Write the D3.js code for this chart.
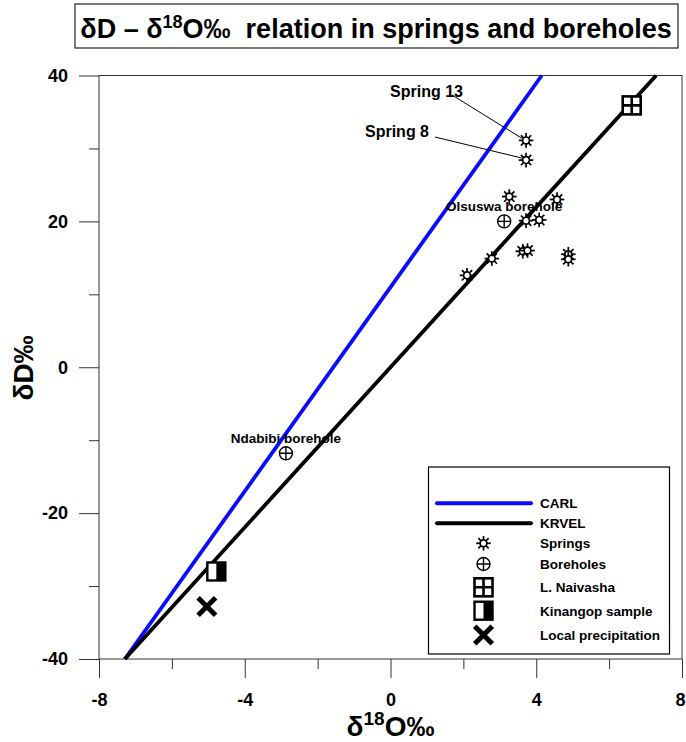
<!DOCTYPE html>
<html>
<head>
<meta charset="utf-8">
<script src="https://cdn.jsdelivr.net/npm/d3@7"></script>
<style>
  body { margin: 0; background: #fff; }
  svg { display: block; font-family: "Liberation Sans", Arial, sans-serif; font-weight: bold; }
  text { white-space: pre; }
</style>
</head>
<body>
<div id="chart"></div>
<script>
// springs (first two are labelled)
const springX = [3.72, 3.72, 3.26, 4.57, 3.72, 4.08, 3.63, 3.76, 4.88, 4.88, 2.78, 2.10];
const springY = [31.1, 28.4, 23.4, 23.0, 20.1, 20.2, 15.9, 16.0, 15.5, 14.8, 14.9, 12.6];
const springNames = ['Spring 13', 'Spring 8'];

const boreholeNames = ['Olsuswa borehole', 'Ndabibi borehole'];
const boreholeX = [3.12, -2.87];
const boreholeY = [20.0, -11.8];

const naivashaX = [6.62];
const naivashaY = [35.9];
const kinangopX = [-4.78];
const kinangopY = [-28.0];
const precipX = [-5.04];
const precipY = [-32.8];

// meteoric water lines, end points
const carlX = [-7.29, 4.15];
const carlY = [-40, 40];
const krvelX = [-7.29, 7.29];
const krvelY = [-40, 40];

const xMajor = [-8, -4, 0, 4, 8];
const xMinor = [-6, -2, 2, 6];
const yMajor = [-40, -20, 0, 20, 40];
const yMinor = [-30, -10, 10, 30];

const legendLabels = ['CARL', 'KRVEL', 'Springs', 'Boreholes', 'L. Naivasha', 'Kinangop sample', 'Local precipitation'];

const width = 686;
const height = 742;
const plotL = 99, plotR = 682, plotT = 75.5, plotB = 659;

const svg = d3.select('#chart').append('svg')
  .attr('width', width)
  .attr('height', height);

const x = d3.scaleLinear().domain([-8, 8]).range([plotL, plotR]);
const y = d3.scaleLinear().domain([-40, 40]).range([plotB, plotT]);

// title
svg.append('rect')
  .attr('x', 75).attr('y', 4).attr('width', 603).attr('height', 44)
  .attr('fill', 'none').attr('stroke', '#333').attr('stroke-width', 1.3);
const title = svg.append('text')
  .attr('x', 376).attr('y', 38)
  .attr('text-anchor', 'middle')
  .attr('font-size', 27);
title.append('tspan').text('δD – δ');
title.append('tspan').attr('font-size', 18).attr('dy', -10).text('18');
title.append('tspan').attr('dy', 10).text('O‰  relation in springs and boreholes');

// axes
const fmt = d => String(d);
function styleAxis(g) {
  g.select('.domain').remove();
  g.selectAll('.tick line').attr('stroke', '#333').attr('stroke-width', 1);
  g.selectAll('.tick text').attr('fill', '#000').attr('font-size', 18)
    .attr('font-family', '"Liberation Sans", Arial, sans-serif').attr('font-weight', 'bold');
}

const xAxisG = svg.append('g').attr('transform', `translate(0,${plotB})`)
  .call(d3.axisBottom(x).tickValues(xMajor).tickSize(19).tickPadding(15).tickFormat(fmt))
  .call(styleAxis);
// last label sits on the page edge
xAxisG.selectAll('.tick text').filter(d => d === 8)
  .attr('text-anchor', 'end').attr('x', 685 - plotR);
svg.append('g').attr('transform', `translate(0,${plotB})`)
  .call(d3.axisBottom(x).tickValues(xMinor).tickSize(10).tickFormat(''))
  .call(styleAxis);
svg.append('g').attr('transform', `translate(${plotL},0)`)
  .call(d3.axisLeft(y).tickValues(yMajor).tickSize(20).tickPadding(11).tickFormat(fmt))
  .call(styleAxis);
svg.append('g').attr('transform', `translate(${plotL},0)`)
  .call(d3.axisLeft(y).tickValues(yMinor).tickSize(10).tickFormat(''))
  .call(styleAxis);

svg.append('rect')
  .attr('x', plotL).attr('y', plotT).attr('width', plotR - plotL).attr('height', plotB - plotT)
  .attr('fill', 'none').attr('stroke', '#333').attr('stroke-width', 1);

// axis titles
const xt = svg.append('text')
  .attr('x', (plotL + plotR) / 2).attr('y', 736)
  .attr('text-anchor', 'middle').attr('font-size', 28);
xt.append('tspan').text('δ');
xt.append('tspan').attr('font-size', 19).attr('dy', -11).text('18');
xt.append('tspan').attr('dy', 11).text('O‰');

svg.append('text')
  .attr('transform', 'translate(33,368) rotate(-90)')
  .attr('text-anchor', 'middle').attr('font-size', 28)
  .text('δD‰');

// lines
const line = d3.line().x(d => x(d[0])).y(d => y(d[1]));
svg.append('path')
  .attr('d', line(d3.zip(carlX, carlY)))
  .attr('stroke', '#0a0aff').attr('stroke-width', 3.8).attr('fill', 'none');
svg.append('path')
  .attr('d', line(d3.zip(krvelX, krvelY)))
  .attr('stroke', '#000').attr('stroke-width', 3.8).attr('fill', 'none');

// symbols
function drawStar(g) {
  g.append('circle').attr('r', 3.4).attr('fill', '#fff').attr('stroke', '#000').attr('stroke-width', 1.7);
  d3.range(8).forEach(i => {
    const a = i * Math.PI / 4;
    g.append('line')
      .attr('x1', 3.4 * Math.cos(a)).attr('y1', 3.4 * Math.sin(a))
      .attr('x2', 7.3 * Math.cos(a)).attr('y2', 7.3 * Math.sin(a))
      .attr('stroke', '#000').attr('stroke-width', 1.7);
  });
}
function drawBorehole(g) {
  g.append('circle').attr('r', 6.5).attr('fill', '#fff').attr('stroke', '#000').attr('stroke-width', 1.4);
  g.append('path').attr('d', 'M-6.5,0H6.5M0,-6.5V6.5').attr('stroke', '#000').attr('stroke-width', 1.4);
}
function drawNaivasha(g) {
  g.append('rect').attr('x', -9).attr('y', -9).attr('width', 18).attr('height', 18)
    .attr('fill', '#fff').attr('stroke', '#000').attr('stroke-width', 2.6);
  g.append('path').attr('d', 'M-9,0H9M0,-9V9').attr('stroke', '#000').attr('stroke-width', 2.6);
}
function drawKinangop(g) {
  g.append('rect').attr('x', -9).attr('y', -9).attr('width', 18).attr('height', 18)
    .attr('fill', '#fff').attr('stroke', '#000').attr('stroke-width', 2.4);
  g.append('rect').attr('x', 0).attr('y', -9).attr('width', 9).attr('height', 18).attr('fill', '#000');
}
function drawCross(g) {
  g.append('path').attr('d', 'M-7,-7L7,7M-7,7L7,-7')
    .attr('stroke', '#000').attr('stroke-width', 5).attr('stroke-linecap', 'square');
}

function plot(xs, ys, draw) {
  xs.forEach((v, i) => {
    const g = svg.append('g').attr('transform', `translate(${x(v)},${y(ys[i])})`);
    draw(g);
  });
}

// leader lines for labelled springs
const leaderStart = [[452, 95], [435, 137]];
springNames.forEach((name, i) => {
  svg.append('line')
    .attr('x1', leaderStart[i][0]).attr('y1', leaderStart[i][1])
    .attr('x2', x(springX[i]) - 4).attr('y2', y(springY[i]) - 2)
    .attr('stroke', '#000').attr('stroke-width', 1);
});

plot(springX, springY, drawStar);
plot(boreholeX, boreholeY, drawBorehole);
plot(naivashaX, naivashaY, drawNaivasha);
plot(kinangopX, kinangopY, drawKinangop);
plot(precipX, precipY, drawCross);

// labels
svg.append('text').attr('x', 463).attr('y', 97).attr('text-anchor', 'end')
  .attr('font-size', 16).text(springNames[0]);
svg.append('text').attr('x', 429).attr('y', 137).attr('text-anchor', 'end')
  .attr('font-size', 16).text(springNames[1]);
boreholeNames.forEach((name, i) => {
  svg.append('text')
    .attr('x', x(boreholeX[i])).attr('y', y(boreholeY[i]) - 10.5)
    .attr('text-anchor', 'middle').attr('font-size', 13.5)
    .text(name);
});

// legend
svg.append('rect')
  .attr('x', 428.5).attr('y', 467).attr('width', 241).attr('height', 187)
  .attr('fill', '#fff').attr('stroke', '#000').attr('stroke-width', 1.2);
const rowY = [503.3, 523.3, 543.3, 564, 587.3, 610.7, 635];
const legendDraw = [null, null, drawStar, drawBorehole, drawNaivasha, drawKinangop, drawCross];
const lineColors = ['#0a0aff', '#000'];
legendLabels.forEach((label, i) => {
  if (i < 2) {
    svg.append('line')
      .attr('x1', 437).attr('x2', 531).attr('y1', rowY[i]).attr('y2', rowY[i])
      .attr('stroke', lineColors[i]).attr('stroke-width', 4).attr('stroke-linecap', 'round');
  } else {
    const g = svg.append('g').attr('transform', `translate(483.5,${rowY[i]})`);
    legendDraw[i](g);
  }
  svg.append('text')
    .attr('x', 540).attr('y', rowY[i] + 5)
    .attr('font-size', 13.5)
    .text(label);
});
</script>
</body>
</html>
